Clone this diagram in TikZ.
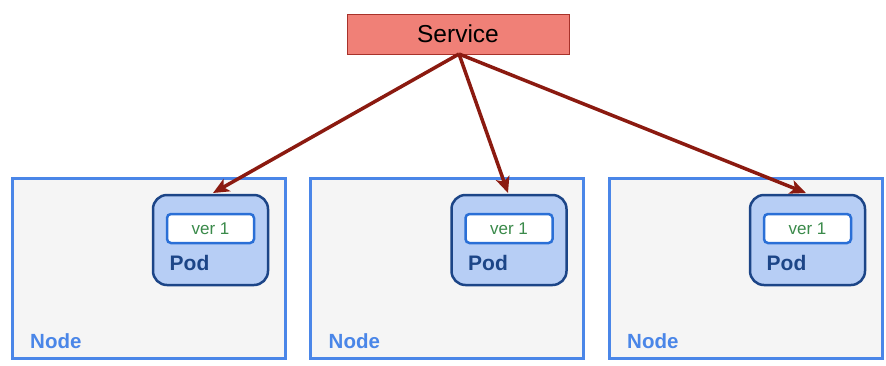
\documentclass[tikz,border=0pt]{standalone}
\usepackage{fontspec}
\setmainfont{Liberation Sans}
\usetikzlibrary{arrows.meta}
\definecolor{svcfill}{HTML}{F08077}
\definecolor{svcdraw}{HTML}{A8322A}
\definecolor{nodeblue}{HTML}{4A86E8}
\definecolor{nodefill}{HTML}{F5F5F5}
\definecolor{podfill}{HTML}{B7CEF5}
\definecolor{poddraw}{HTML}{1C4587}
\definecolor{verdraw}{HTML}{2A6FD6}
\definecolor{vertext}{HTML}{3A8A4A}
\definecolor{arrowred}{HTML}{8B1A10}
\tikzset{
  svc/.style={draw=svcdraw, fill=svcfill, line width=1pt, minimum width=222pt, minimum height=40pt, inner sep=0pt, font=\fontsize{24.5}{26}\selectfont},
  hostbox/.style={draw=nodeblue, fill=nodefill, line width=3pt, minimum width=273pt, minimum height=180pt, inner sep=0pt},
  podbox/.style={draw=poddraw, fill=podfill, line width=2.5pt, rounded corners=14pt, minimum width=115pt, minimum height=90pt, inner sep=0pt},
  verbox/.style={draw=verdraw, fill=white, line width=2.5pt, rounded corners=4pt, minimum width=87pt, minimum height=29pt, inner sep=0pt, text=vertext, font=\fontsize{17}{19}\selectfont},
  podlabel/.style={text=poddraw, font=\bfseries\fontsize{21}{23}\selectfont, anchor=base west, inner sep=0pt},
  hostlabel/.style={text=nodeblue, font=\bfseries\fontsize{20.5}{22}\selectfont, anchor=base west, inner sep=0pt},
  conn/.style={draw=arrowred, line width=3.5pt, -{Stealth[length=16pt,width=14pt,inset=4pt]}}
}
\begin{document}
\begin{tikzpicture}[x=1pt,y=-1pt]
\useasboundingbox (0,0) rectangle (886,365);
\node[svc] (service) at (458,34) {Service};
\coordinate (src) at (459,54);
\foreach \i/\hx/\px in {1/148.5/210.5, 2/447/509, 3/745.5/807.5} {
  \node[hostbox] (host\i) at (\hx,268) {};
  \node[hostlabel] (hostlab\i) at (\hx-118.5,348) {Node};
  \node[podbox] (pod\i) at (\px,240) {};
  \node[verbox] (ver\i) at (\px,228.5) {ver 1};
  \node[podlabel] (podlab\i) at (\px-41,270) {Pod};
}
\coordinate (t1) at (213,193);
\coordinate (t2) at (508,193);
\coordinate (t3) at (806,193);
\draw[conn] (src) -- (t1);
\draw[conn] (src) -- (t2);
\draw[conn] (src) -- (t3);
\end{tikzpicture}
\end{document}
